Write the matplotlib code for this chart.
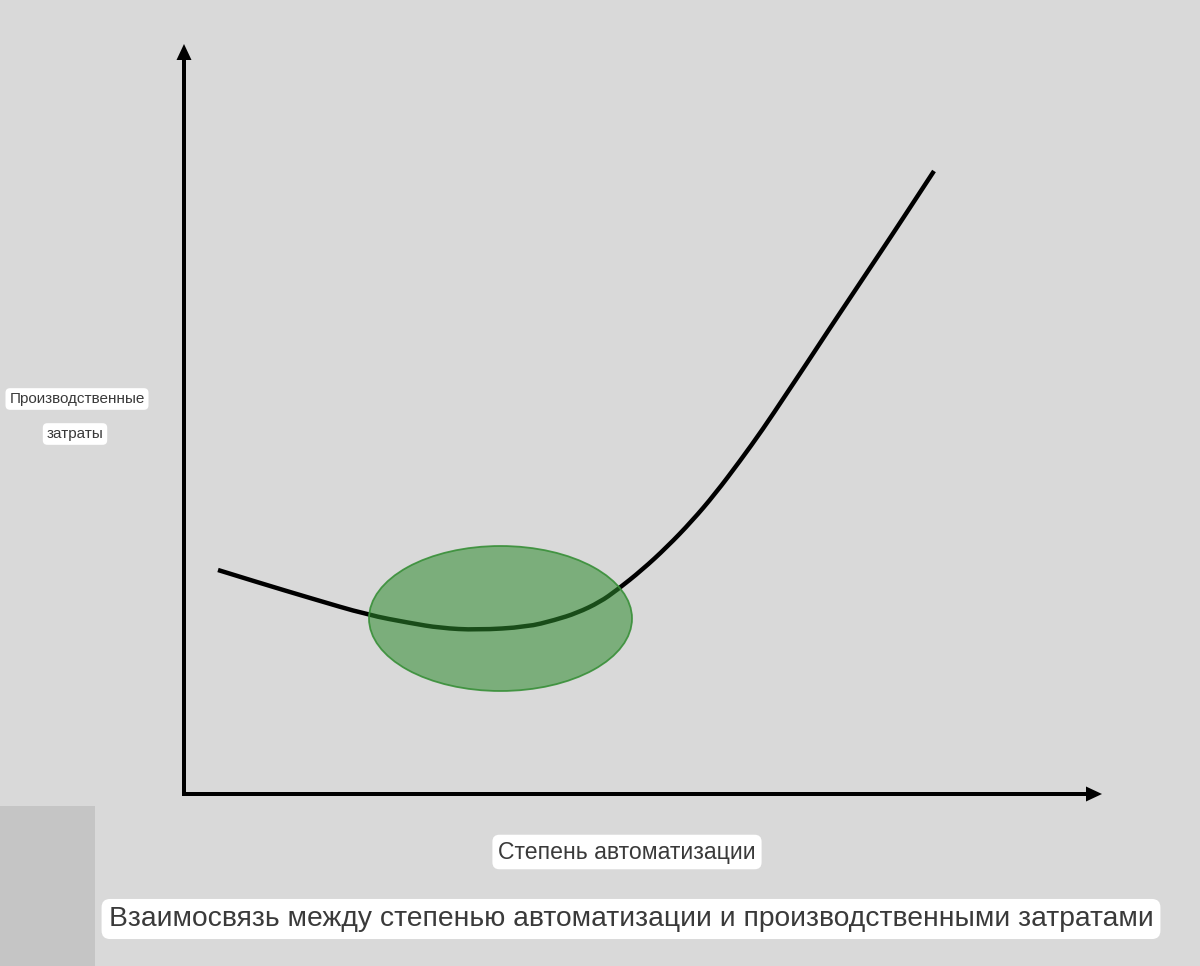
import matplotlib
matplotlib.use("Agg")
import matplotlib.pyplot as plt
from matplotlib.patches import Ellipse, Rectangle, PathPatch, FancyArrow
from matplotlib.path import Path

plt.rcParams['font.family'] = ['Liberation Sans', 'DejaVu Sans']

# Data (conceptual units: automation degree vs production cost)
automation = [34, 76, 126, 184, 226, 256, 293, 343, 371, 393, 416, 433, 458, 483,
              508, 531, 556, 579, 601, 623, 644, 664, 686, 708, 729, 750]
cost = [224, 211, 196, 179, 171, 166, 164, 167, 174, 181, 192, 204, 224, 247,
        273, 300, 333, 365, 398, 431, 463, 493, 526, 559, 591, 623]

optimum_center = (316.5, 175.5)
optimum_width = 263
optimum_height = 145

x_axis_end = 918
y_axis_end = 750

title = "Взаимосвязь между степенью автоматизации и производственными затратами"
xlabel = "Степень автоматизации"
ylabel_lines = ["Производственные", "затраты"]

BG = "#d9d9d9"
fig = plt.figure(figsize=(12, 9.66), dpi=100, facecolor=BG)
ax = fig.add_axes([0, 0, 1, 1])
ax.set_facecolor(BG)
ax.set_xlim(-184, 1016)
ax.set_ylim(-172, 794)
ax.axis('off')

# grey block bottom-left
ax.add_patch(Rectangle((-184, -172), 95, 160, facecolor="#c5c5c5", edgecolor='none', zorder=0))

# axes arrows (1 data unit == 1 pixel on both axes)
ax.add_patch(FancyArrow(0, -2, 0, y_axis_end + 2, width=4, head_width=15, head_length=16,
                        length_includes_head=True, color='black', lw=0, zorder=2))
ax.add_patch(FancyArrow(-2, 0, x_axis_end + 2, 0, width=4, head_width=15, head_length=16,
                        length_includes_head=True, color='black', lw=0, zorder=2))

# curve: smooth quadratic path through the read points (midpoints as anchors)
pts = list(zip(automation, cost))
verts = [pts[0]]
codes = [Path.MOVETO]
for i in range(1, len(pts) - 1):
    nxt = pts[-1] if i == len(pts) - 2 else ((pts[i][0] + pts[i + 1][0]) / 2,
                                               (pts[i][1] + pts[i + 1][1]) / 2)
    verts += [pts[i], nxt]
    codes += [Path.CURVE3, Path.CURVE3]
ax.add_patch(PathPatch(Path(verts, codes), fill=False, edgecolor='black', lw=3.2,
                       capstyle='butt', zorder=2))

# optimum ellipse
ax.add_patch(Ellipse(optimum_center, optimum_width, optimum_height,
                     facecolor=(0.18, 0.55, 0.18, 0.55), edgecolor=(0.22, 0.56, 0.22, 0.9),
                     lw=1.3, zorder=3))

box = dict(boxstyle='round,pad=0.25,rounding_size=0.3', facecolor='white', edgecolor='none')
tc = "#3a3a3a"
ax.text(-107, 395, ylabel_lines[0], fontsize=11, color=tc, ha='center', va='center', bbox=box)
ax.text(-109, 360, ylabel_lines[1], fontsize=11, color=tc, ha='center', va='center', bbox=box)
ax.text(443, -58, xlabel, fontsize=16.6, color=tc, ha='center', va='center', bbox=box)
ax.text(447, -125, title, fontsize=20.3, color=tc, ha='center', va='center', bbox=box)

fig.savefig("out.png", dpi=100, facecolor=BG)
